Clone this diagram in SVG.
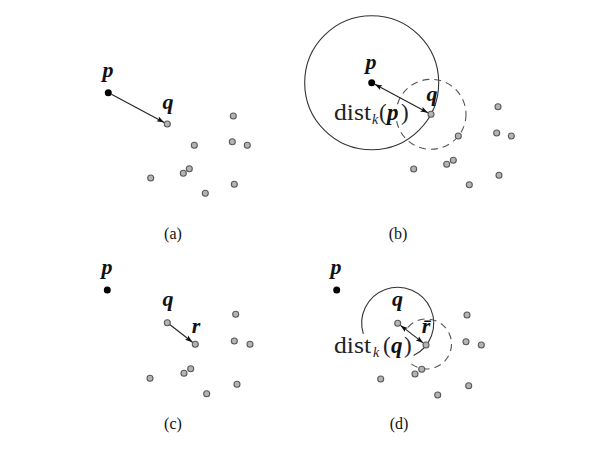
<svg xmlns="http://www.w3.org/2000/svg" width="600" height="450" viewBox="0 0 600 450">
<defs>
<marker id="ah" markerUnits="userSpaceOnUse" markerWidth="9" markerHeight="6" refX="7.5" refY="3" orient="auto-start-reverse">
<path d="M0,0.4 L7.5,3 L0,5.6 L1.6,3 z" fill="#111"/>
</marker>
<style>
.pt{fill:#b4b4b4;stroke:#5a5a5a;stroke-width:1.1}
.dot{fill:#000}
.lbl{font-family:"Liberation Serif","DejaVu Serif",serif;font-style:italic;font-weight:bold;font-size:22px;fill:#111;text-anchor:middle}
.cap{font-family:"Liberation Serif","DejaVu Serif",serif;font-size:16px;fill:#111;text-anchor:middle}
.dist{font-family:"Liberation Serif","DejaVu Serif",serif;font-size:23px;fill:#222}
.arr{stroke:#222;stroke-width:1.1;fill:none}
.solid{stroke:#333;stroke-width:1.1;fill:none}
.dash{stroke:#555;stroke-width:1.1;fill:none;stroke-dasharray:7 5}
</style>
</defs>
<rect width="600" height="450" fill="#fff"/>

<!-- Panel (a) -->
<g id="a-p"><circle class="dot" cx="108.3" cy="92.7" r="3.5"/><text class="lbl" x="108" y="77">p</text></g>
<g id="a-q"><circle class="pt" cx="167.3" cy="124" r="3"/><text class="lbl" x="168" y="109">q</text></g>
<g id="a-pts">
<circle class="pt" cx="233.3" cy="116" r="3"/>
<circle class="pt" cx="194.3" cy="145.3" r="3"/>
<circle class="pt" cx="232.3" cy="141.7" r="3"/>
<circle class="pt" cx="247.3" cy="145.3" r="3"/>
<circle class="pt" cx="189.3" cy="168.7" r="3"/>
<circle class="pt" cx="183.3" cy="173.3" r="3"/>
<circle class="pt" cx="150.7" cy="178" r="3"/>
<circle class="pt" cx="234.3" cy="184.3" r="3"/>
<circle class="pt" cx="205.3" cy="193.3" r="3"/>
</g>
<text class="cap" x="173" y="239">(a)</text>

<!-- Panel (b) -->
<g id="b-circles">
<circle class="solid" cx="371.7" cy="82.7" r="67"/>
<circle class="dash" cx="431" cy="114.3" r="35"/>
</g>
<g id="b-p"><circle class="dot" cx="371.7" cy="82.7" r="3.5"/><text class="lbl" x="371" y="69">p</text></g>
<g id="b-q"><circle class="pt" cx="431" cy="114.3" r="3"/><text class="lbl" x="432" y="101">q</text></g>
<g id="b-pts">
<circle class="pt" cx="498" cy="106.7" r="3"/>
<circle class="pt" cx="458.3" cy="136" r="3"/>
<circle class="pt" cx="496.7" cy="133" r="3"/>
<circle class="pt" cx="511.3" cy="136" r="3"/>
<circle class="pt" cx="453.3" cy="160.3" r="3"/>
<circle class="pt" cx="446.7" cy="164.3" r="3"/>
<circle class="pt" cx="413.7" cy="169" r="3"/>
<circle class="pt" cx="499" cy="175.3" r="3"/>
<circle class="pt" cx="469.3" cy="184.7" r="3"/>
</g>
<g id="b-dist">
<text class="dist" y="120"><tspan x="334" textLength="37" lengthAdjust="spacingAndGlyphs">dist</tspan><tspan x="372" y="124" font-size="14" font-style="italic">k</tspan><tspan x="379" y="120">(</tspan><tspan x="387" font-style="italic" font-weight="bold" fill="#111">p</tspan><tspan x="401" y="120">)</tspan></text>
</g>
<text class="cap" x="398" y="239">(b)</text>

<!-- Panel (c) -->
<g id="c-p"><circle class="dot" cx="107.3" cy="290" r="3.5"/><text class="lbl" x="107" y="274">p</text></g>
<g id="c-q"><circle class="pt" cx="167.3" cy="322.7" r="3"/><text class="lbl" x="168" y="306">q</text></g>
<g id="c-r"><circle class="pt" cx="195.3" cy="344.3" r="3"/><text class="lbl" x="196" y="333">r</text></g>
<g id="c-pts">
<circle class="pt" cx="235.7" cy="314.3" r="3"/>
<circle class="pt" cx="234.3" cy="341" r="3"/>
<circle class="pt" cx="250" cy="344.3" r="3"/>
<circle class="pt" cx="190.7" cy="368.7" r="3"/>
<circle class="pt" cx="184" cy="373.3" r="3"/>
<circle class="pt" cx="150" cy="378.3" r="3"/>
<circle class="pt" cx="237" cy="384.3" r="3"/>
<circle class="pt" cx="206.7" cy="393.7" r="3"/>
</g>
<text class="cap" x="173" y="429">(c)</text>

<!-- Panel (d) -->
<g id="d-circles">
<path class="solid" d="M363.3,333.9 A36,36 0 1 1 413.6,355.6"/>
<path class="dash" d="M407.9,327.3 A25,25 0 1 1 410.9,363.5"/>
</g>
<g id="d-p"><circle class="dot" cx="336.7" cy="290" r="3.5"/><text class="lbl" x="336" y="274">p</text></g>
<g id="d-q"><circle class="pt" cx="397.7" cy="323.3" r="3"/><text class="lbl" x="397.5" y="306">q</text></g>
<g id="d-r"><circle class="pt" cx="426" cy="345" r="3"/><text class="lbl" x="426" y="333">r̄</text></g>
<g id="d-pts">
<circle class="pt" cx="467" cy="315" r="3"/>
<circle class="pt" cx="466" cy="341.7" r="3"/>
<circle class="pt" cx="481.3" cy="345" r="3"/>
<circle class="pt" cx="421.7" cy="369.3" r="3"/>
<circle class="pt" cx="415" cy="374" r="3"/>
<circle class="pt" cx="380.7" cy="379" r="3"/>
<circle class="pt" cx="468.7" cy="385.7" r="3"/>
<circle class="pt" cx="437.7" cy="395" r="3"/>
</g>
<g id="d-dist">
<text class="dist" y="353"><tspan x="334" textLength="37" lengthAdjust="spacingAndGlyphs">dist</tspan><tspan x="373" y="357" font-size="14" font-style="italic">k</tspan><tspan x="383" y="353">(</tspan><tspan x="391" font-style="italic" font-weight="bold" fill="#111">q</tspan><tspan x="404" y="353">)</tspan></text>
</g>
<text class="cap" x="399" y="429">(d)</text>

<!-- Connectors -->
<g id="connectors">
<line class="arr" x1="111.4" y1="94.3" x2="164.2" y2="122.4" marker-end="url(#ah)"/>
<line class="arr" x1="374.8" y1="84.3" x2="427.9" y2="112.7" marker-start="url(#ah)" marker-end="url(#ah)"/>
<line class="arr" x1="170.1" y1="324.8" x2="192.5" y2="342.2" marker-end="url(#ah)"/>
<line class="arr" x1="400.5" y1="325.4" x2="423.2" y2="342.9" marker-start="url(#ah)" marker-end="url(#ah)"/>
</g>
</svg>
